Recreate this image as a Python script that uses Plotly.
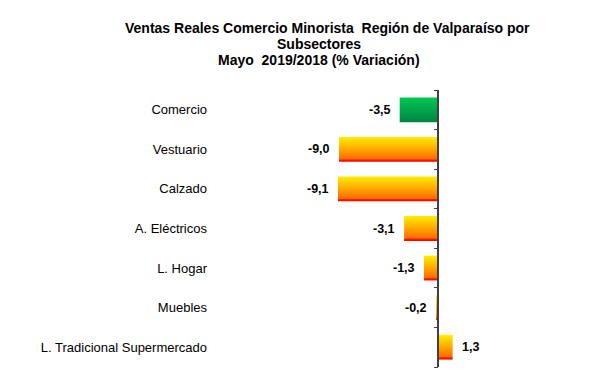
import plotly.graph_objects as go

categories = ["Comercio", "Vestuario", "Calzado", "A. Eléctricos", "L. Hogar", "Muebles",
              "L. Tradicional Supermercado"]
values = [-3.5, -9.0, -9.1, -3.1, -1.3, -0.2, 1.3]
title_lines = ["Ventas Reales Comercio Minorista  Región de Valparaíso por", "Subsectores",
               "Mayo  2019/2018 (% Variación)"]

FONT = "Arial, Liberation Sans, sans-serif"
W, H = 603, 378
L, R, T, B = 208, 40, 90, 11
n = len(categories)
ypos = [n - 1 - i for i in range(n)]
half = 0.313
px_per_unit = 11.03
xmin = -(438.3 - L) / px_per_unit
xmax = xmin + (W - L - R) / px_per_unit

orange_scale = [[0, "#FF0000"], [0.07, "#FF1400"], [0.11, "#FF6A00"], [0.5, "#FFA600"], [1, "#FFEE00"]]
green_scale = [[0, "#008442"], [1, "#00C853"]]

fig = go.Figure()
for i, (cat, v) in enumerate(zip(categories, values)):
    yc = ypos[i]
    scale = green_scale if cat == "Comercio" else orange_scale
    fig.add_trace(go.Scatter(
        x=[0, v, v, 0, 0], y=[yc - half, yc - half, yc + half, yc + half, yc - half],
        mode="lines", line=dict(width=0), fill="toself",
        fillgradient=dict(type="vertical", colorscale=scale),
        hoverinfo="skip", showlegend=False))

for v, yc in zip(values, ypos):
    fig.add_annotation(x=v, y=yc, xref="x", yref="y",
                       text="<b>" + f"{v:.1f}".replace(".", ",") + "</b>",
                       xanchor="right" if v < 0 else "left",
                       xshift=-7 if v < 0 else 7, yanchor="middle", showarrow=False,
                       font=dict(family=FONT, size=12.5, color="#000000"))

fig.add_trace(go.Scatter(x=[0], y=[0], yaxis="y2", mode="markers",
                         marker=dict(opacity=0), hoverinfo="skip", showlegend=False))

fig.update_layout(
    width=W, height=H,
    margin=dict(l=L, r=R, t=T, b=B),
    plot_bgcolor="white", paper_bgcolor="white",
    xaxis=dict(range=[xmin, xmax], visible=False, fixedrange=True),
    yaxis=dict(range=[-0.5, n - 0.5], tickvals=ypos, ticktext=categories,
               showgrid=False, zeroline=False, showline=False, ticks="",
               tickfont=dict(family=FONT, size=13, color="#000000")),
    yaxis2=dict(overlaying="y", anchor="free", side="left",
                position=(0 - xmin) / (xmax - xmin),
                range=[-0.5, n - 0.5], tickvals=[k - 0.5 for k in range(n + 1)],
                showticklabels=False, ticks="outside", ticklen=4, tickwidth=1,
                tickcolor="#404040", showline=True, linecolor="#404040", linewidth=1.5,
                showgrid=False, zeroline=False),
    showlegend=False,
)

title_cx = [327, 319, 318.5]
title_cy = [28, 43.5, 60]
plot_w, plot_h = W - L - R, H - T - B
for line, cx, cy in zip(title_lines, title_cx, title_cy):
    fig.add_annotation(text=f"<b>{line}</b>", xref="paper", yref="paper",
                       x=(cx - L) / plot_w, xanchor="center",
                       y=(H - B - cy) / plot_h, yanchor="middle",
                       showarrow=False, font=dict(family=FONT, size=14, color="#000000"))

fig.write_html("out.html", config={"displayModeBar": False},
               post_script="document.body.style.margin='0';")
